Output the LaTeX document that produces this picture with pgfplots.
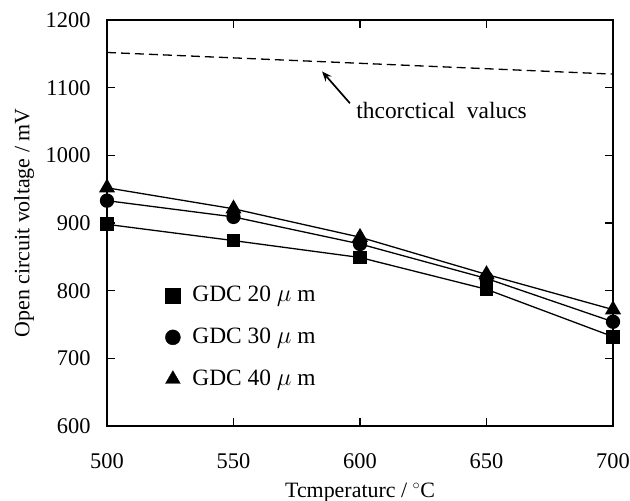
\documentclass[border=0pt]{standalone}
\usepackage{pgfplots}
\pgfplotsset{compat=1.18}
\usepackage{fontspec}
\setmainfont{Liberation Serif}
\usetikzlibrary{arrows.meta}
\begin{document}
\fontsize{22}{26}\selectfont
\begin{tikzpicture}[x=1bp,y=1bp]
\useasboundingbox (0,0) rectangle (630,501);
\begin{axis}[
  at={(107bp,75bp)}, anchor=south west,
  scale only axis, width=506bp, height=406bp,
  xmin=500, xmax=700, ymin=600, ymax=1200,
  xtick={500,550,...,700}, ytick={600,700,...,1200},
  tick align=inside, major tick length=8bp,
  axis line style={line width=1.6bp},
  every tick/.style={line width=1.2bp, black},
  /pgf/number format/assume math mode=true,
  /pgf/number format/1000 sep={},
  xticklabel style={yshift=-20bp},
  yticklabel style={xshift=-9bp},
  tick label style={font=\fontsize{22.5}{26}\selectfont},
  legend style={draw=none, fill=none, at={(axis cs:523,810)}, anchor=north west,
    font=\fontsize{23.5}{26}\selectfont, row sep=19bp, inner sep=0pt,
    legend cell align=left, /tikz/every odd column/.append style={column sep=10bp}},
  clip=false,
]
\addlegendimage{only marks, mark=square*, mark size=7.2bp, black}
\addlegendentry{GDC 20 $\mu$ m}
\addlegendimage{only marks, mark=*, mark size=7.5bp, black}
\addlegendentry{GDC 30 $\mu$ m}
\addlegendimage{only marks, mark=triangle*, mark size=8.5bp, black}
\addlegendentry{GDC 40 $\mu$ m}
\addplot[black, line width=1.3bp, mark=square*, mark size=6.2bp, mark options={solid}, forget plot] coordinates {(500,898) (550,874) (600,849) (650,802) (700,732)};
\addplot[black, line width=1.3bp, mark=*, mark size=6.5bp, mark options={solid}, forget plot] coordinates {(500,933) (550,909) (600,869) (650,818) (700,754)};
\addplot[black, line width=1.3bp, mark=triangle*, mark size=8bp, mark options={solid}, forget plot] coordinates {(500,952) (550,921) (600,879) (650,824) (700,772)};
\addplot[black, line width=1.3bp, dash pattern=on 9bp off 5bp, forget plot] coordinates {(500,1152) (550,1144) (600,1136) (650,1128) (700,1120)};
\draw[-{Stealth[length=10bp,width=8bp]}, line width=1.7bp] (axis cs:596,1077) -- (axis cs:585,1124);
\node[anchor=west, inner sep=0pt, font=\fontsize{23.5}{26}\selectfont] at (axis cs:598.5,1066) {thcorctical\ \ valucs};
\node[anchor=center, inner sep=0pt, font=\fontsize{22}{26}\selectfont] at (rel axis cs:0.5,-0.163) {Tcmperaturc / $^{\circ}$C};
\node[anchor=center, rotate=90, inner sep=0pt, font=\fontsize{22}{26}\selectfont] at (rel axis cs:-0.164,0.5) {Open circuit voltage / mV};
\end{axis}
\end{tikzpicture}
\end{document}
